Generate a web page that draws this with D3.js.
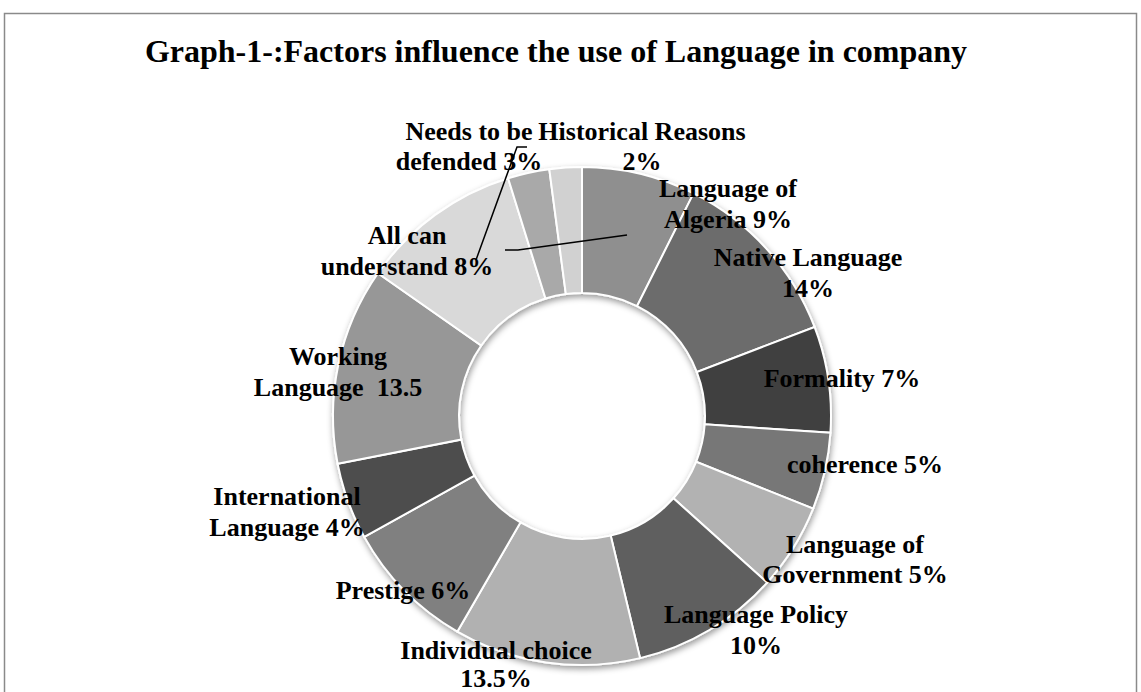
<!DOCTYPE html>
<html>
<head>
<meta charset="utf-8">
<script src="https://cdn.jsdelivr.net/npm/d3@7"></script>
<style>
  body { margin: 0; background: #fff; }
  text { font-family: "Liberation Serif", "Times New Roman", serif; font-weight: bold; fill: #000; }
</style>
</head>
<body>
<div id="chart"></div>
<script>
let chart_width = 1141;
let chart_height = 692;

// data
let categories = ["Language of Algeria", "Native Language", "Formality", "coherence",
  "Language of Government", "Language Policy", "Individual choice", "Prestige",
  "International Language", "Working Language", "All can understand",
  "Needs to be defended", "Historical Reasons"];
// slice sizes as drawn (share of the ring)
let values = [7.4, 11.8, 6.9, 5.0, 5.6, 9.6, 12.1, 8.6, 5.0, 12.8, 10.5, 2.7, 2.1];
// label text as printed in the chart, one entry per line
let label_lines = [
  ["Language of", "Algeria 9%"],
  ["Native Language", "14%"],
  ["Formality 7%"],
  ["coherence 5%"],
  ["Language of", "Government 5%"],
  ["Language Policy", "10%"],
  ["Individual choice", "13.5%"],
  ["Prestige 6%"],
  ["International", "Language 4%"],
  ["Working", "Language  13.5"],
  ["All can", "understand 8%"],
  ["Needs to be", "defended 3%"],
  ["Historical Reasons", "2%"]
];
let slice_colors = ["#8f8f8f", "#6c6c6c", "#414141", "#777777", "#b2b2b2", "#5f5f5f",
  "#b1b1b1", "#808080", "#4d4d4d", "#979797", "#d9d9d9", "#a9a9a9", "#d1d1d1"];

// label layout: centre x, first baseline y, line step
let label_pos = [
  [728, 197, 31], [808, 266, 31], [842, 387, 31], [865, 473, 31], [855, 553, 30], [756, 623, 31],
  [496, 659, 28], [403, 599, 31], [287, 505, 31], [338, 365, 31], [407, 244, 31], [469, 140, 30], [642, 140, 30]
];

// 中心和半径
let cx = 582, cy = 416;
let outer_r = 249, inner_r = 123;

let svg = d3.select("#chart").append("svg")
  .attr("width", chart_width)
  .attr("height", chart_height);

// frame
svg.append("rect")
  .attr("x", 4.5).attr("y", 13.5)
  .attr("width", 1132).attr("height", 720)
  .style("fill", "none")
  .style("stroke", "#8a8a8a")
  .style("stroke-width", 1.5);

svg.append("text")
  .attr("x", 556).attr("y", 62)
  .attr("text-anchor", "middle")
  .style("font-size", "32px")
  .text("Graph-1-:Factors influence the use of Language in company");

let defs = svg.append("defs");
let shadow = defs.append("filter").attr("id", "shadow")
  .attr("x", "-10%").attr("y", "-10%").attr("width", "120%").attr("height", "120%");
shadow.append("feDropShadow")
  .attr("dx", 1).attr("dy", 3)
  .attr("stdDeviation", 3)
  .attr("flood-color", "#000")
  .attr("flood-opacity", 0.4);

let pie = d3.pie().sort(null).value(d => d)(values);
let arc = d3.arc().innerRadius(inner_r).outerRadius(outer_r);

let ring = svg.append("g")
  .attr("transform", "translate(" + cx + "," + cy + ")")
  .attr("filter", "url(#shadow)");

ring.selectAll("path")
  .data(pie)
  .enter()
  .append("path")
  .attr("d", arc)
  .style("fill", (d, i) => slice_colors[i])
  .style("stroke", "#fff")
  .style("stroke-width", 2);

// leader lines
let leaders = [
  [[527, 147], [517, 147], [476, 260]],
  [[505, 250], [518, 250], [627, 235]]
];
svg.selectAll(".leader")
  .data(leaders)
  .enter()
  .append("path")
  .attr("class", "leader")
  .attr("d", d3.line())
  .style("fill", "none")
  .style("stroke", "#000")
  .style("stroke-width", 1.5);

let labels = svg.selectAll(".label")
  .data(label_lines)
  .enter()
  .append("text")
  .attr("class", "label")
  .attr("text-anchor", "middle")
  .style("font-size", "26px");

labels.selectAll("tspan")
  .data((d, i) => d.map(s => ({ s: s, i: i })))
  .enter()
  .append("tspan")
  .attr("x", d => label_pos[d.i][0])
  .attr("y", (d, j) => label_pos[d.i][1] + j * label_pos[d.i][2])
  .style("white-space", "pre")
  .text(d => d.s);
</script>
</body>
</html>
